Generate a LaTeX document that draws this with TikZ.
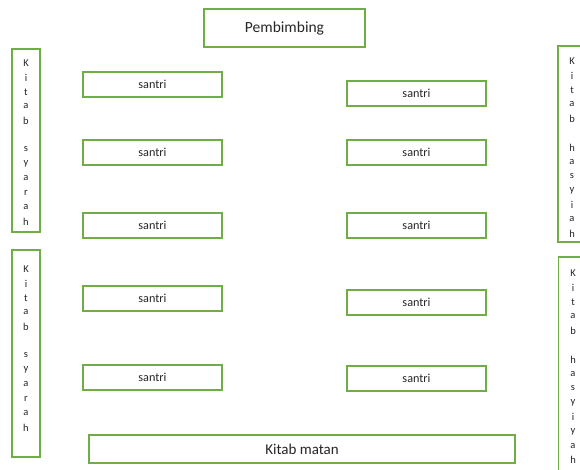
\documentclass[tikz,border=0pt]{standalone}
\usepackage{fontspec}
\setmainfont{Carlito}
\definecolor{boxgreen}{RGB}{112,173,71}
\tikzset{
  box/.style={draw=boxgreen, line width=1.4pt, fill=white, inner sep=0pt, align=center, text=black!85},
  santribox/.style={box, minimum width=139pt, minimum height=25pt, font=\fontsize{12.2}{13}\selectfont},
  letter/.style={inner sep=0pt, font=\fontsize{10.5}{12}\selectfont, text=black!85},
}
\begin{document}
\begin{tikzpicture}[x=1pt,y=-1pt]
\useasboundingbox (0,0) rectangle (580,469);
\clip (0,0) rectangle (580,469);
\fill[white] (0,0) rectangle (580,469);
% top
\node[box, minimum width=161pt, minimum height=38pt, font=\fontsize{15.5}{17}\selectfont] (pemb) at (284.5,28) {Pembimbing};
% left santri
\node[santribox] (ls1) at (152.5,84.5) {santri};
\node[santribox] (ls2) at (152.5,152.5) {santri};
\node[santribox] (ls3) at (152.5,225.5) {santri};
\node[santribox] (ls4) at (152.5,298.5) {santri};
\node[santribox] (ls5) at (152.5,377.5) {santri};
% right santri
\node[santribox] (rs1) at (416.5,93.5) {santri};
\node[santribox] (rs2) at (416.5,152.5) {santri};
\node[santribox] (rs3) at (416.5,225.5) {santri};
\node[santribox] (rs4) at (416.5,302.5) {santri};
\node[santribox] (rs5) at (416.5,378.5) {santri};
% bottom
\node[box, minimum width=426pt, minimum height=28pt, font=\fontsize{15}{16}\selectfont] (matan) at (302,449) {Kitab matan};
% side boxes
\node[box, minimum width=28pt, minimum height=183pt] (lt) at (26,140.5) {};
\node[box, minimum width=28pt, minimum height=207pt] (lb) at (26,353.5) {};
\node[box, minimum width=42pt, minimum height=196pt] (rt) at (579,144) {};
\node[box, minimum width=42pt, minimum height=223pt] (rb) at (579.5,368.5) {};
% letters
\foreach \c/\k in {K/0,i/1,t/2,a/3,b/4,s/6,y/7,a/8,r/9,a/10,h/11}
  \node[letter] (lt\k) at (26,63+14.4*\k) {\c};
\foreach \c/\k in {K/0,i/1,t/2,a/3,b/4,s/6,y/7,a/8,r/9,a/10,h/11}
  \node[letter] (lb\k) at (26,269+14.4*\k) {\c};
\foreach \c/\k in {K/0,i/1,t/2,a/3,b/4,h/6,a/7,s/8,y/9,i/10,a/11,h/12}
  \node[letter] (rt\k) at (572,61+14.4*\k) {\c};
\foreach \c/\k in {K/0,i/1,t/2,a/3,b/4,h/6,a/7,s/8,y/9,i/10,y/11,a/12,h/13}
  \node[letter] (rb\k) at (573,273+14.4*\k) {\c};
\end{tikzpicture}
\end{document}
